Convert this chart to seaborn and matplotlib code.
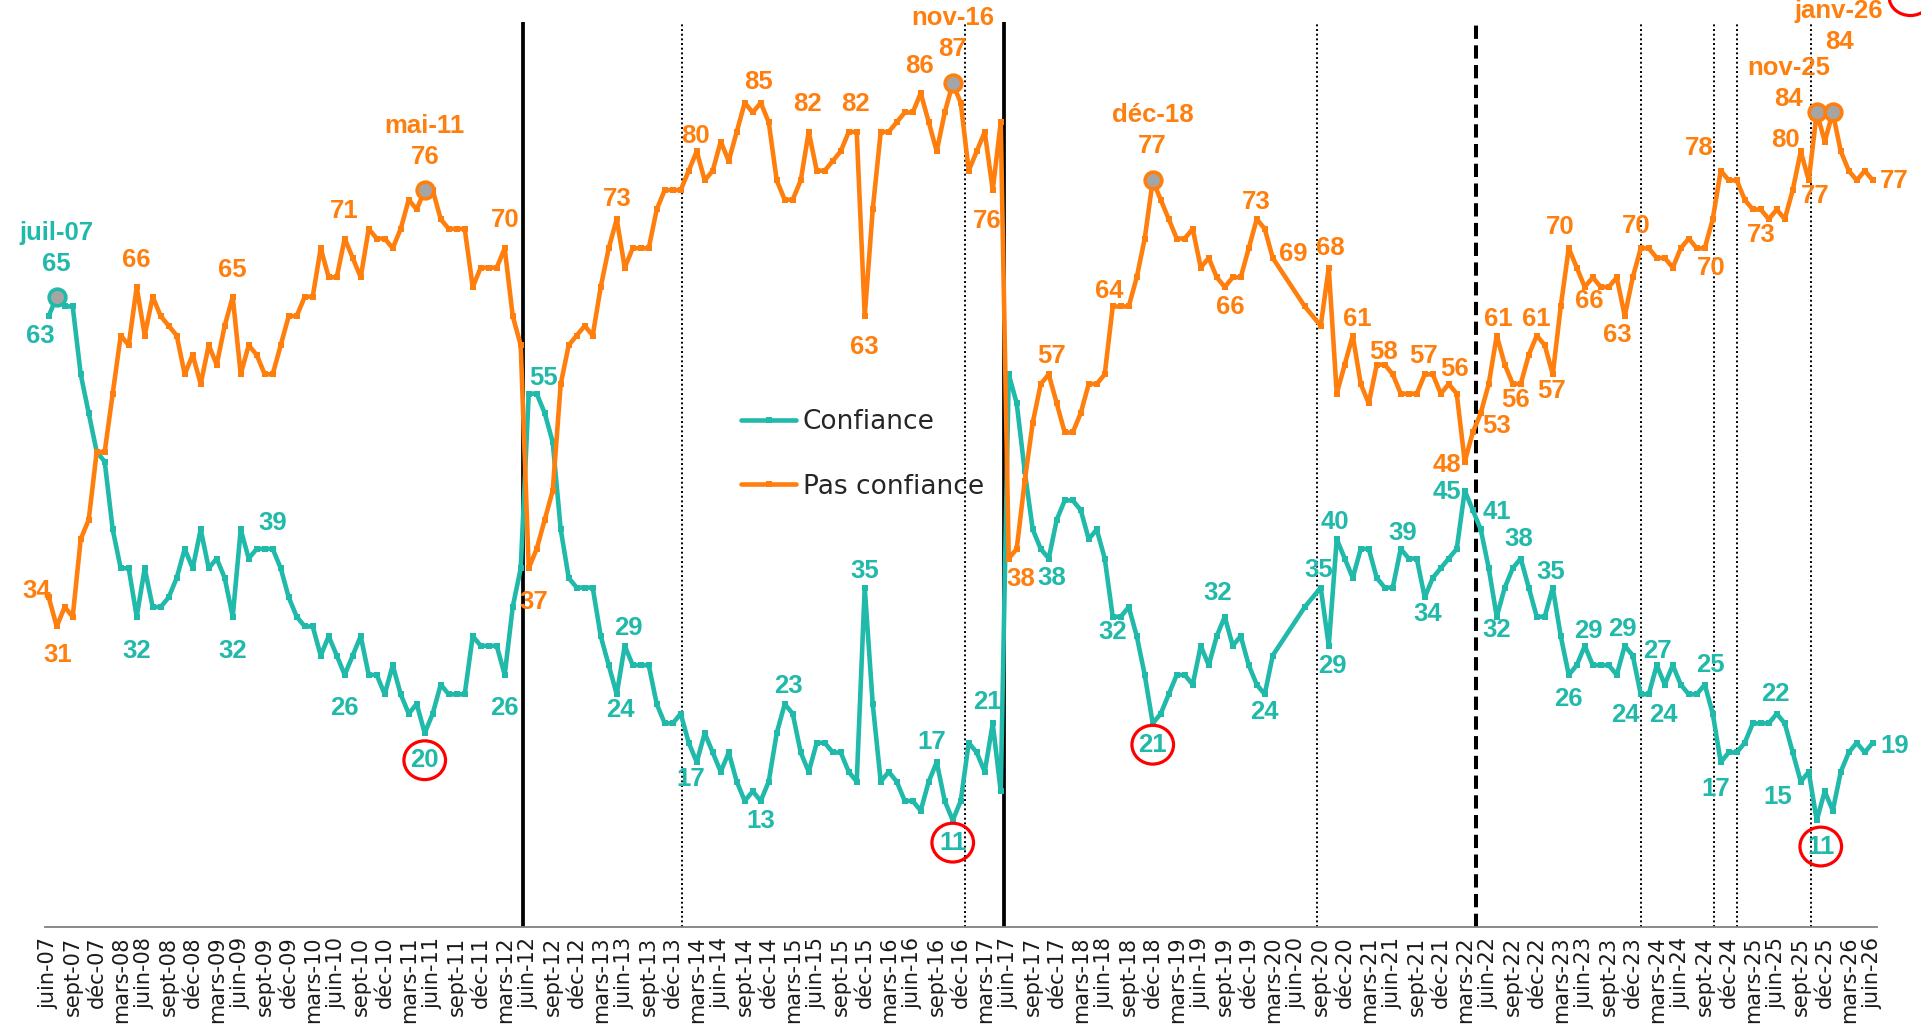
import numpy as np
import pandas as pd
import seaborn as sns
import matplotlib.pyplot as plt
from matplotlib.lines import Line2D
from matplotlib.patches import Ellipse

nan = np.nan

# Monthly series, index 0 = juin-07 ... 228 = juin-26 (nan = no survey that month)
confiance = [
    63, 65, 64, 64, 57, 53, 49, 48, 41, 37, 37, 32,
    37, 33, 33, 34, 36, 39, 37, 41, 37, 38, 36, 32,
    41, 38, 39, 39, 39, 37, 34, 32, 31, 31, 28, 30,
    28, 26, 28, 30, 26, 26, 24, 27, 24, 22, 23, 20,
    22, 25, 24, 24, 24, 30, 29, 29, 29, 26, 33, 37,
    55, 55, 53, 50, 41, 36, 35, 35, 35, 30, 27, 24,
    29, 27, 27, 27, 23, 21, 21, 22, 19, 17, 20, 18,
    16, 18, 15, 13, 14, 13, 15, 20, 23, 22, 18, 16,
    19, 19, 18, 18, 16, 15, 35, 23, 15, 16, 15, 13,
    13, 12, 15, 17, 13, 11, 13, 19, 18, 16, 21, 14,
    57, 54, 47, 41, 39, 38, 42, 44, 44, 43, 40, 41,
    38, 32, 32, 33, 30, 26, 21, 22, 24, 26, 26, 25,
    29, 27, 30, 32, 29, 30, 27, 25, 24, 28, nan, nan,
    nan, 33, nan, 35, 29, 40, 38, 36, 39, 39, 36, 35,
    35, 39, 38, 38, 34, 36, 37, 38, 39, 45, 43, 41,
    37, 32, 35, 37, 38, 35, 32, 32, 35, 30, 26, 27,
    29, 27, 27, 27, 26, 29, 28, 24, 24, 27, 25, 27,
    25, 24, 24, 25, 22, 17, 18, 18, 19, 21, 21, 21,
    22, 21, 18, 15, 16, 11, 14, 12, 16, 18, 19, 18,
    19,
]
pas_confiance = [
    34, 31, 33, 32, 40, 42, 49, 49, 55, 61, 60, 66,
    61, 65, 63, 62, 61, 57, 59, 56, 60, 58, 62, 65,
    57, 60, 59, 57, 57, 60, 63, 63, 65, 65, 70, 67,
    67, 71, 69, 67, 72, 71, 71, 70, 72, 75, 74, 76,
    76, 73, 72, 72, 72, 66, 68, 68, 68, 70, 63, 60,
    37, 39, 42, 45, 56, 60, 61, 62, 61, 66, 70, 73,
    68, 70, 70, 70, 74, 76, 76, 76, 78, 80, 77, 78,
    81, 79, 82, 85, 84, 85, 83, 77, 75, 75, 77, 82,
    78, 78, 79, 80, 82, 82, 63, 74, 82, 82, 83, 84,
    84, 86, 83, 80, 84, 87, 85, 78, 80, 82, 76, 83,
    38, 39, 46, 52, 56, 57, 54, 51, 51, 53, 56, 56,
    57, 64, 64, 64, 67, 71, 77, 75, 73, 71, 71, 72,
    68, 69, 67, 66, 67, 67, 70, 73, 72, 69, nan, nan,
    nan, 64, nan, 62, 68, 55, 58, 61, 56, 54, 58, 58,
    57, 55, 55, 55, 57, 57, 55, 56, 55, 48, 51, 53,
    56, 61, 58, 56, 56, 59, 61, 60, 57, 64, 70, 68,
    66, 67, 66, 66, 67, 63, 67, 70, 70, 69, 69, 68,
    70, 71, 70, 70, 73, 78, 77, 77, 75, 74, 74, 73,
    74, 73, 76, 80, 77, 84, 81, 84, 80, 78, 77, 78,
    77,
]

mois_fr = ['janv', 'févr', 'mars', 'avr', 'mai', 'juin',
           'juil', 'août', 'sept', 'oct', 'nov', 'déc']
dates = pd.date_range('2007-06-01', periods=len(confiance), freq='MS')
month_labels = [f"{mois_fr[d.month - 1]}-{d.year % 100:02d}" for d in dates]

# event lines (month positions)
solid_lines = [59.3, 119.45]
dashed_lines = [178.4]
dotted_lines = [79.1, 114.5, 158.5, 199.0, 208.2, 211.0, 220.3]

# highlighted points (grey markers + date caption)
highlight_conf = [1]
highlight_pas = [47, 113, 138, 221, 223]
circled_conf = [47, 113, 138, 221]

# value labels: (month index, dx, dy)
labels_conf = [
    (0, -1.1, -2.0), (1, 0, 3.4), (11, 0, -3.5), (23, 0, -3.5), (28, 0, 2.7),
    (37, 0, -3.4), (47, 0, -2.8), (57, 0, -3.4), (61, 0.9, 1.6), (71, 0.4, -1.6),
    (72, 0.45, 1.8), (81, -0.8, -1.7), (89, 0, -2.1), (92, 0.5, 1.9), (102, 0, 1.7),
    (111, -0.6, 2.1), (113, 0, -2.3), (118, -0.7, 2.2), (125, 0.4, -2.0),
    (133, 0, -1.6), (138, 0, -2.2), (147, -0.9, 2.4), (152, 0, -1.8),
    (159, -0.3, 1.8), (160, 0.4, -2.1), (161, -0.2, 1.8), (169, 0.3, 1.6),
    (172, 0.4, -1.7), (177, -2.2, -0.1), (179, 2.0, 1.8), (181, 0, -1.4),
    (184, -0.3, 2.0), (188, -0.3, 1.6), (190, -0.1, -2.5), (192, 0.5, 1.5),
    (197, -0.3, 1.7), (199, -1.9, -2.1), (200, 1.8, -2.1), (201, 0.1, 1.5),
    (207, 0.75, 2.0), (209, -0.6, -2.8), (216, -0.2, 2.0), (219, -2.9, -1.6),
    (221, 0.5, -2.7), (228, 2.7, -0.3),
]
labels_pas = [
    (0, -1.5, 0.7), (1, 0.1, -2.9), (11, 0, 2.8), (23, 0, 2.8), (37, 0, 2.8),
    (47, 0, 3.4), (57, 0, 2.9), (60, 0.6, -3.5), (71, 0.1, 2.1), (81, -0.2, 1.6),
    (89, -0.25, 2.1), (95, -0.1, 2.9), (101, -0.1, 2.9), (102, 0, -3.2),
    (109, -0.1, 2.8), (113, 0, 3.5), (118, -0.7, -3.2), (120, 1.5, -2.1),
    (125, 0.4, 1.9), (133, -0.4, 1.6), (138, 0, 3.5), (147, 0.7, -2.1),
    (151, 0, 1.8), (153, 2.6, 0.4), (160, 0.2, 2.0), (163, 0.6, 1.7),
    (166, 0.8, 1.3), (172, -0.2, 1.9), (175, 0.7, 1.5), (177, -2.2, -0.4),
    (179, 2.0, -1.3), (181, 0.2, 1.7), (183, 0.4, -1.7), (186, -0.1, 1.7),
    (188, -0.1, -1.7), (190, -1.1, 2.2), (192, 0.5, -1.4), (197, -0.9, -1.9),
    (199, -0.6, 2.3), (207, 0.75, -2.0), (209, -2.7, 2.3), (215, -1.0, -1.6),
    (219, -1.9, 1.2), (220, 0.8, -1.6), (221, -3.5, 1.4), (223, 0.8, 7.3),
    (228, 2.7, -0.1),
]

TEAL = '#20B9AA'
ORANGE = '#FF7F0E'
GREY = '#A5A5A5'

sns.set_style('white')
plt.rcParams['font.family'] = ['DejaVu Sans']
LABEL_FONT = ['Liberation Sans', 'DejaVu Sans']

df = pd.DataFrame({'mois': np.arange(len(confiance)),
                   'Confiance': confiance,
                   'Pas confiance': pas_confiance})
long_df = df.melt(id_vars='mois', var_name='serie', value_name='valeur').dropna()

fig = plt.figure(figsize=(19.21, 10.25), dpi=100)
ax = fig.add_axes([0.02327, 0.0956, 0.9537, 0.9044])

# event lines
top = 93.3
ax.vlines(solid_lines, 0, top, colors='black', linewidth=2.7, zorder=1)
ax.vlines(dashed_lines, 0, top, colors='black', linewidth=2.9,
          linestyles=(0, (3.3, 1.6)), zorder=1)
ax.vlines(dotted_lines, 0, top, colors='black', linewidth=1.4,
          linestyles=(0, (1, 1.4)), zorder=1)

sns.lineplot(data=long_df, x='mois', y='valeur', hue='serie',
             hue_order=['Confiance', 'Pas confiance'],
             palette={'Confiance': TEAL, 'Pas confiance': ORANGE},
             marker='s', markersize=4, markeredgewidth=0, linewidth=3.3,
             errorbar=None, legend=False, ax=ax, zorder=3)

series = {'conf': (confiance, TEAL), 'pas': (pas_confiance, ORANGE)}

# highlighted points
for key, idxs in (('conf', highlight_conf), ('pas', highlight_pas)):
    vals, col = series[key]
    ax.plot(idxs, [vals[i] for i in idxs], linestyle='none', marker='o',
            markersize=12, markerfacecolor=GREY, markeredgecolor=col,
            markeredgewidth=2.6, zorder=5)

# value labels and date captions
for key, table, highlights in (('conf', labels_conf, highlight_conf),
                               ('pas', labels_pas, highlight_pas)):
    vals, col = series[key]
    for i, dx, dy in table:
        ax.text(i + dx, vals[i] + dy, f"{vals[i]:.0f}", ha='center', va='center',
                color=col, fontsize=18.5, fontweight='bold', family=LABEL_FONT,
                zorder=6)
        if i in highlights:
            ax.text(i + dx, vals[i] + dy + 3.2, month_labels[i], ha='center',
                    va='center', color=col, fontsize=18.5, fontweight='bold',
                    family=LABEL_FONT, zorder=6)

# red circles around the lows
for i, dx, dy in labels_conf:
    if i in circled_conf:
        ax.add_patch(Ellipse((i + dx, confiance[i] + dy), 5.2, 4.0, fill=False,
                             edgecolor='red', linewidth=2.3, zorder=7))
ax.add_patch(Ellipse((232.7, 95.9), 5.3, 3.8, fill=False, edgecolor='red',
                     linewidth=2.3, zorder=7, clip_on=False))

ax.set_xlim(-0.5, len(confiance) - 0.5)
ax.set_ylim(0, 95.6)
ax.set_yticks([])
ax.set_xlabel('')
ax.set_ylabel('')
sns.despine(ax=ax, left=True, top=True, right=True)
ax.spines['bottom'].set_color('#808080')
ax.spines['bottom'].set_linewidth(1.3)

ax.set_xticks(np.arange(-0.5, len(confiance), 1))
ax.tick_params(axis='x', which='major', length=5, width=1, color='#808080',
               labelbottom=False)
tick_pos = list(range(0, len(confiance), 3))
ax.set_xticks(tick_pos, labels=[month_labels[i] for i in tick_pos], minor=True)
ax.tick_params(axis='x', which='minor', length=0, pad=7, labelsize=15,
               labelrotation=90, labelcolor='#1a1a1a')

handles = [Line2D([], [], color=TEAL, lw=3.3, marker='s', ms=4, mew=0),
           Line2D([], [], color=ORANGE, lw=3.3, marker='s', ms=4, mew=0)]
fig.legend(handles, ['Confiance', 'Pas confiance'], loc='center left',
           bbox_to_anchor=(0.3857, 0.5566), frameon=False, fontsize=19,
           handlelength=2.1, handletextpad=0.25, labelspacing=1.45,
           borderpad=0, borderaxespad=0)

fig.savefig('out.png', dpi=100)
